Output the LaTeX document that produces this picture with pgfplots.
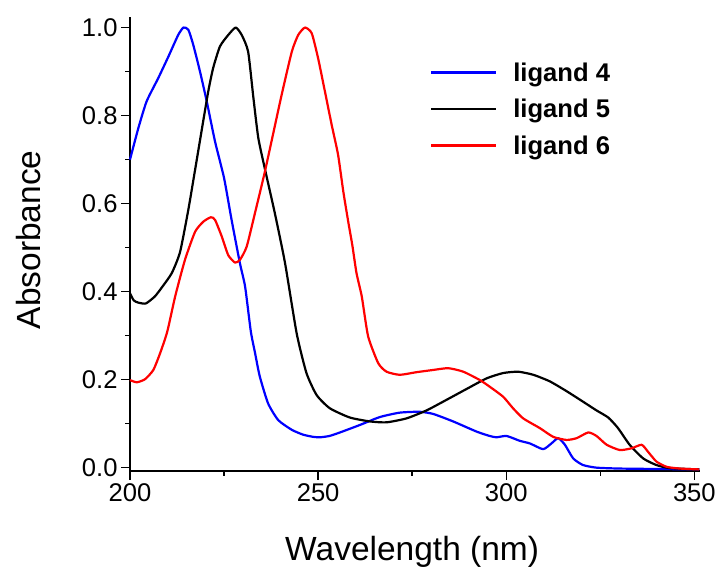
\documentclass[border=0pt]{standalone}
\usepackage{fontspec}
\setmainfont{Liberation Sans}
\usepackage{pgfplots}
\pgfplotsset{compat=1.18}
\newcommand{\tickfont}{\fontsize{25.6bp}{30bp}\selectfont}
\newcommand{\labfont}{\fontsize{33.5bp}{38bp}\selectfont}
\begin{document}
\begin{tikzpicture}
\begin{axis}[
  scale only axis,
  width=570bp, height=454bp,
  xmin=200, xmax=351.5,
  ymin=-0.0075, ymax=1.024,
  axis x line=bottom, axis y line=left,
  axis line style={-, line width=1.6bp},
  xtick={200,250,300,350},
  ytick={0,0.2,0.4,0.6,0.8,1.0},
  minor x tick num=1, minor y tick num=1,
  tick align=outside,
  major tick length=9bp, minor tick length=5bp,
  tick style={line width=1.4bp, black},
  every tick/.style={line width=1.4bp, black},
  /pgf/number format/assume math mode=true,
  ticklabel style={font=\tickfont},
  yticklabel style={/pgf/number format/.cd, fixed, fixed zerofill, precision=1},
  xticklabel style={/pgf/number format/.cd, fixed, precision=0, 1000 sep={}},
  xlabel={Wavelength (nm)},
  ylabel={Absorbance},
  label style={font=\labfont},
  xlabel style={at={(axis description cs:0.495,-0.178)}, anchor=center},
  ylabel style={at={(axis description cs:-0.178,0.509)}, anchor=center, rotate=0},
  clip=false,
  legend style={draw=none, fill=none, at={(rel axis cs:0.521,0.909)}, anchor=north west,
    font=\bfseries\tickfont, row sep=12.5bp, /tikz/every odd column/.style={column sep=14bp}},
  legend cell align=left,
  legend image code/.code={\draw[#1] (0bp,0bp) -- (65bp,0bp);},
  every axis plot/.append style={line width=2.2bp, line join=round},
]
\addplot[blue, smooth, tension=0.35] coordinates {
(200,0.700) (202.2,0.771) (204.4,0.832) (207.5,0.885) (210.2,0.934) (212.8,0.983) (214.2,1.000) (215.5,0.995) (216.8,0.961) (218.6,0.900) (220.4,0.832) (222.6,0.741) (225,0.658) (227,0.563) (229.2,0.465) (230.6,0.411) (232.1,0.310) (233.2,0.262) (234.5,0.207) (236.7,0.146) (239.4,0.108) (243,0.086) (246,0.075) (248.7,0.070) (250.5,0.069) (253,0.072) (255.8,0.080) (261.1,0.097) (266.4,0.115) (271.7,0.125) (277,0.127) (280.6,0.122) (285.9,0.105) (292.1,0.082) (295.6,0.072) (297.4,0.069) (300.1,0.072) (303.6,0.061) (306.3,0.055) (309.8,0.042) (312,0.055) (313.8,0.067) (315.6,0.052) (317.8,0.021) (320.4,0.006) (324,0.000) (330,-0.002) (340,-0.003) (351.3,-0.004)
};
\addlegendentry{ligand 4}
\addplot[black, smooth, tension=0.35] coordinates {
(200,0.396) (201,0.380) (202.2,0.375) (204.2,0.373) (206.6,0.389) (208.5,0.410) (211.1,0.442) (213.3,0.490) (215.5,0.586) (217.3,0.677) (219,0.764) (220.8,0.855) (222.1,0.908) (223.9,0.957) (226.1,0.983) (228.1,1.000) (229.7,0.983) (231.4,0.945) (232.8,0.840) (234.1,0.749) (235.9,0.677) (238.5,0.578) (241.2,0.465) (244.3,0.305) (246.9,0.215) (249.6,0.165) (253.1,0.135) (258.4,0.114) (263.8,0.105) (268.2,0.103) (273.5,0.112) (278.8,0.130) (284.1,0.154) (289.5,0.179) (294.8,0.203) (299.2,0.215) (303.2,0.218) (307.2,0.211) (311.6,0.196) (316,0.174) (320.4,0.150) (324,0.130) (327.1,0.114) (329.7,0.090) (332.8,0.052) (336.4,0.021) (339.9,0.006) (343.5,-0.001) (351.3,-0.004)
};
\addlegendentry{ligand 5}
\addplot[red, smooth, tension=0.35] coordinates {
(200,0.199) (201.8,0.194) (204,0.201) (206.2,0.222) (208,0.260) (209.9,0.309) (212,0.389) (214.6,0.472) (217.3,0.536) (219.5,0.559) (221.5,0.569) (222.6,0.563) (224.4,0.525) (226.1,0.483) (227.9,0.466) (229.2,0.472) (231,0.502) (233.2,0.578) (235.7,0.667) (237.6,0.741) (240.3,0.847) (243,0.945) (244.7,0.983) (246.5,1.000) (248.3,0.987) (250,0.930) (251.8,0.855) (253.6,0.779) (255.3,0.711) (256.7,0.627) (258,0.559) (259.1,0.505) (260.2,0.442) (261.6,0.389) (263.3,0.298) (266,0.237) (268.2,0.218) (271.7,0.211) (276.2,0.217) (280.6,0.222) (284.6,0.226) (288.6,0.218) (293,0.199) (295.6,0.184) (299.2,0.161) (301.8,0.135) (304.5,0.112) (308.9,0.090) (312.5,0.070) (316,0.063) (318.7,0.067) (321.8,0.080) (324,0.072) (326.7,0.052) (330.2,0.040) (333.3,0.044) (336,0.052) (337.7,0.036) (339.9,0.014) (342.6,0.002) (346.1,-0.002) (351.3,-0.004)
};
\addlegendentry{ligand 6}
\coordinate (bbl) at (rel axis cs:-0.2281,-0.2115);
\coordinate (btr) at (rel axis cs:1.0351,1.0374);
\end{axis}
\pgfresetboundingbox
\path (bbl) rectangle (btr);
\end{tikzpicture}
\end{document}
